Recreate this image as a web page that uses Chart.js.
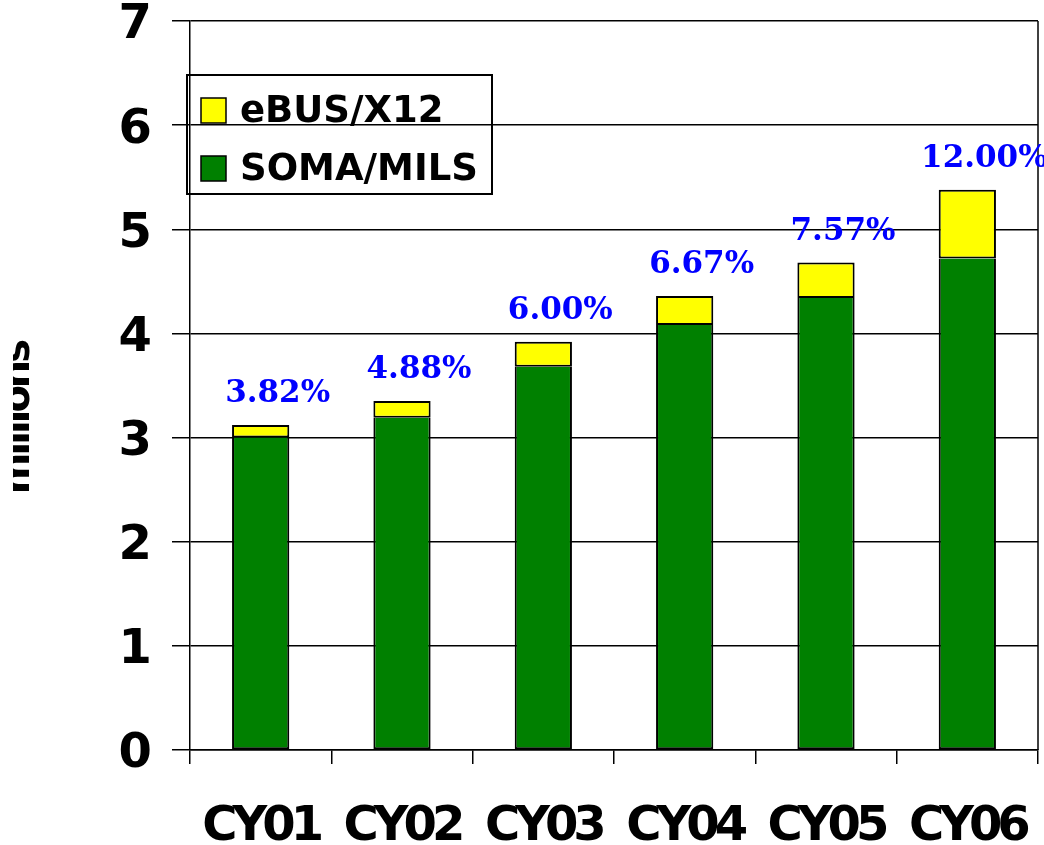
<!DOCTYPE html>
<html><head><meta charset="utf-8">
<script src="https://cdn.jsdelivr.net/npm/chart.js@4/dist/chart.umd.min.js"></script>
<style>html,body{margin:0;padding:0;background:#fff}#wrap{width:1044px;height:845px}</style>
</head><body><div id="wrap"><canvas id="c" width="1044" height="845"></canvas></div>
<script>
const categories = ['CY01','CY02','CY03','CY04','CY05','CY06'];
const somaMils = [3.00, 3.19, 3.68, 4.08, 4.34, 4.72];
const ebusX12 = [0.12, 0.16, 0.24, 0.28, 0.34, 0.66];
const pctLabels = [3.82, 4.88, 6.00, 6.67, 7.57, 12.00];
const yTicks = [0,1,2,3,4,5,6,7];
const yTitle = 'millions';

const FONT = "'DejaVu Sans', sans-serif";

const framePlugin = {
  id:'frame',
  beforeDraw(chart){
    chart.ctx.letterSpacing = '0px';
    const x = chart.scales.x;
    if (!x._wrapped){
      x._wrapped = true;
      const proto = Object.getPrototypeOf(x);
      x.drawLabels = function(area){
        const ctx = chart.ctx;
        ctx.save(); ctx.letterSpacing='-5px';
        proto.drawLabels.call(this, area);
        ctx.restore();
      };
    }
  },
  afterDraw(chart){
    const {ctx, chartArea:a} = chart;
    ctx.save();
    ctx.letterSpacing = '0px';
    ctx.strokeStyle='#000'; ctx.lineWidth=1.5;
    ctx.beginPath(); ctx.moveTo(a.right, a.top); ctx.lineTo(a.right, a.bottom); ctx.stroke();
    // percentage labels
    const meta = chart.getDatasetMeta(1);
    ctx.fillStyle='#0000FF';
    ctx.font = "bold 31px 'DejaVu Serif', serif";
    ctx.textAlign='center'; ctx.textBaseline='middle';
    meta.data.forEach((bar,i)=>{
      ctx.fillText(pctLabels[i].toFixed(2)+'%', bar.x+17, bar.y-31);
    });
    // legend
    ctx.lineWidth=2; ctx.strokeStyle='#000';
    ctx.strokeRect(187,75,305,119);
    const items=[{ds:chart.data.datasets[1], y:110},{ds:chart.data.datasets[0], y:168}];
    ctx.font = "bold 37px "+FONT; ctx.textAlign='left'; ctx.fillStyle='#000';
    items.forEach(it=>{
      ctx.fillStyle=it.ds.backgroundColor; ctx.fillRect(201,it.y-12,25,25);
      ctx.lineWidth=1.5; ctx.strokeRect(201,it.y-12,25,25);
      ctx.fillStyle='#000'; ctx.fillText(it.ds.label, 240, it.y+2);
    });
    // y title (clipped at the left edge)
    ctx.beginPath(); ctx.rect(13,0,200,845); ctx.clip();
    ctx.translate(29, 418); ctx.rotate(-Math.PI/2);
    ctx.font = "bold 40px "+FONT; ctx.letterSpacing='-3px';
    ctx.textAlign='center'; ctx.textBaseline='alphabetic';
    ctx.fillText(yTitle, 0, 0);
    ctx.restore();
  }
};

new Chart(document.getElementById('c'), {
  type:'bar',
  data:{
    labels: categories,
    datasets:[
      {label:'SOMA/MILS', data: somaMils, backgroundColor:'#008000', borderColor:'#000', borderWidth:2, borderSkipped:'end', categoryPercentage:1, barPercentage:0.405},
      {label:'eBUS/X12', data: ebusX12, backgroundColor:'#FFFF00', borderColor:'#000', borderWidth:2, borderSkipped:false, categoryPercentage:1, barPercentage:0.405}
    ]
  },
  options:{
    responsive:false, animation:false, devicePixelRatio:1,
    layout:{padding:{top:21,right:6,left:0,bottom:0}},
    plugins:{legend:{display:false}, tooltip:{enabled:false}},
    scales:{
      x:{stacked:true,
        grid:{display:true, offset:true, drawOnChartArea:false, color:'#000', lineWidth:1.5, tickLength:14, tickColor:'#000'},
        border:{display:true,color:'#000',width:1.5},
        ticks:{color:'#000', font:{family:FONT, weight:'bold', size:48}, padding:35, maxRotation:0, autoSkip:false},
        afterFit(s){ s.height=95; s.paddingLeft=0; s.paddingRight=0; }
      },
      y:{stacked:true, min:0, max:7,
        afterBuildTicks(s){ s.ticks = yTicks.map(v=>({value:v})); },
        grid:{color:'#000', lineWidth:1.5, tickLength:18, tickColor:'#000'},
        border:{display:true,color:'#000',width:1.5},
        ticks:{color:'#000', font:{family:FONT, weight:'bold', size:48}, padding:20, labelOffset:5},
        afterFit(s){ s.width=190; s.paddingTop=0; s.paddingBottom=0; }
      }
    }
  },
  plugins:[framePlugin]
});
</script></body></html>
